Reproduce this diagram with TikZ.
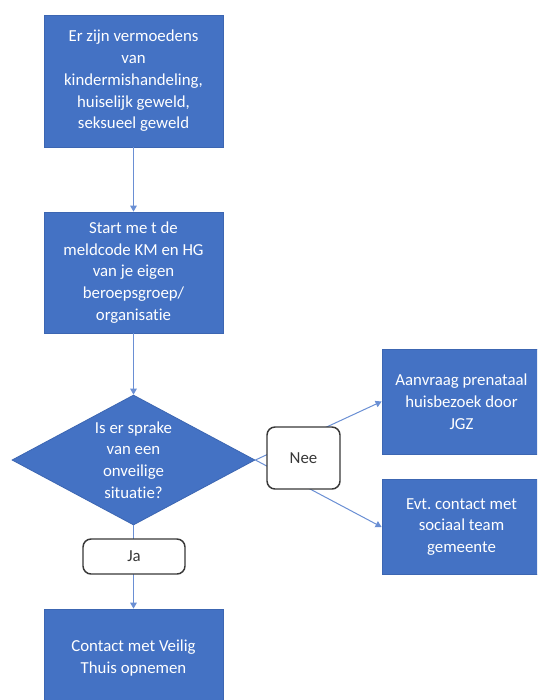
\documentclass[tikz,border=0pt]{standalone}
\usepackage{fontspec}
\setmainfont{Carlito}[Ligatures={NoCommon,NoContextual}]
\usetikzlibrary{shapes.geometric,arrows.meta}
\definecolor{boxblue}{HTML}{4472C4}
\definecolor{boxedge}{HTML}{3C66B2}
\definecolor{linkblue}{HTML}{6A8FD4}
\definecolor{labelgray}{HTML}{383838}
\tikzset{
  stepbox/.style={rectangle, fill=boxblue, draw=boxedge, line width=0.6pt,
    text=white, align=center, inner sep=0pt,
    font=\fontsize{12.6pt}{16.3pt}\selectfont},
  choice/.style={diamond, fill=boxblue, draw=boxedge, line width=0.6pt,
    text=white, align=center, inner sep=0pt, aspect=1.87,
    font=\fontsize{12.6pt}{16.3pt}\selectfont},
  answer/.style={rectangle, rounded corners=6pt, fill=white, draw=labelgray,
    line width=1.1pt, text=labelgray, inner sep=0pt,
    font=\fontsize{12.6pt}{16.3pt}\selectfont},
  link/.style={draw=linkblue, line width=0.75pt,
    -{Triangle[width=5pt,length=4.5pt]}},
}
\frenchspacing
\begin{document}
\begin{tikzpicture}[x=0.75pt,y=-0.75pt]
\useasboundingbox (0,0) rectangle (537,700);
\clip (0,0) rectangle (537,700);
\fill[white] (0,0) rectangle (537,700);
\node[stepbox, minimum width=179*0.75pt, minimum height=132*0.75pt] (b1) at (133.5,81)
  {Er zijn vermoedens\\van\\kindermishandeling,\\huiselijk geweld,\\seksueel geweld};
\node[stepbox, minimum width=179*0.75pt, minimum height=121*0.75pt] (b2) at (133.5,272.5)
  {Start me t de\\meldcode KM en HG\\van je eigen\\beroepsgroep/\\organisatie};
\node[choice, minimum width=243*0.75pt, minimum height=130*0.75pt] (d) at (133.5,460)
  {Is er sprake\\van een\\onveilige\\situatie?};
\node[stepbox, minimum width=179*0.75pt, minimum height=98*0.75pt] (b5) at (133.5,658)
  {Contact met Veilig\\Thuis opnemen};
\node[stepbox, minimum width=159*0.75pt, minimum height=105*0.75pt] (r1) at (461.5,401.5)
  {Aanvraag prenataal\\huisbezoek door\\JGZ};
\node[stepbox, minimum width=159*0.75pt, minimum height=95*0.75pt] (r2) at (461.5,527)
  {Evt.\ contact met\\sociaal team\\gemeente};
\draw[link] (b1) -- (b2);
\draw[link] (b2) -- (d);
\draw[link] (d.south) -- (b5.north);
\draw[link] (d.east) -- (r1.west);
\draw[link] (d.east) -- (r2.west);
\node[answer, minimum width=102*0.75pt, minimum height=35*0.75pt] (ja) at (134,556.5) {Ja};
\node[answer, minimum width=73*0.75pt, minimum height=62*0.75pt] (nee) at (303.5,458) {Nee};
\end{tikzpicture}
\end{document}
